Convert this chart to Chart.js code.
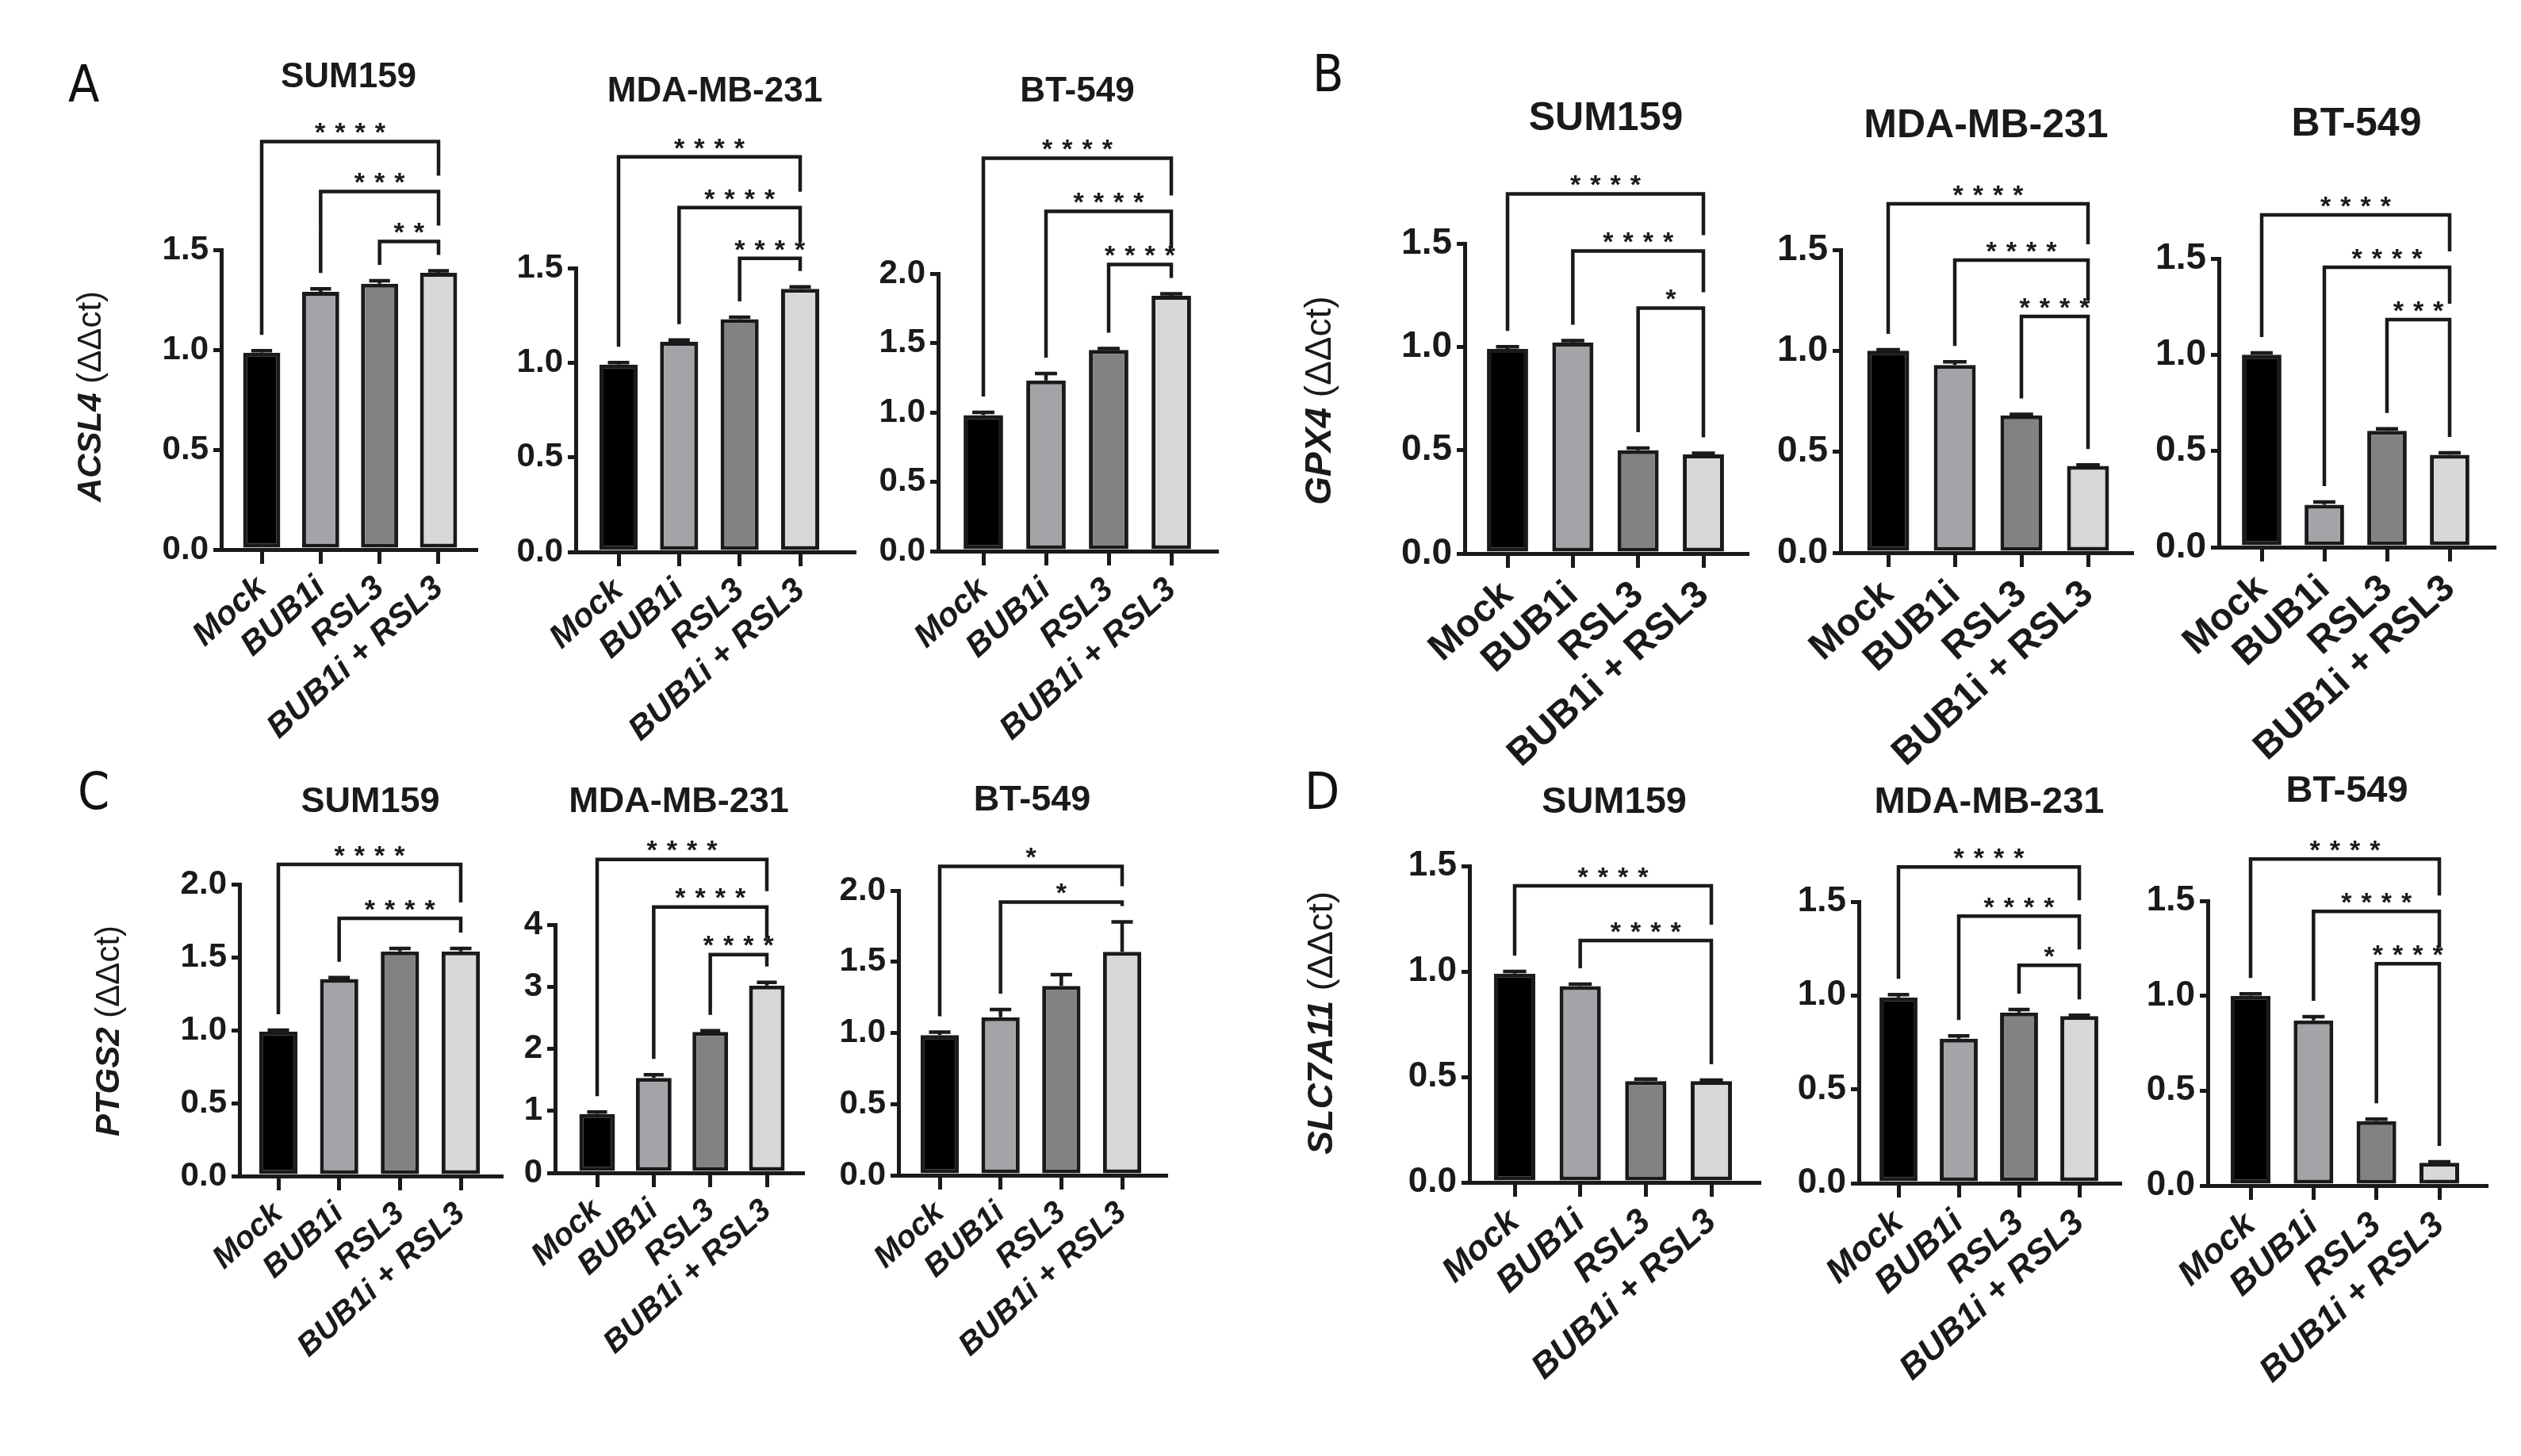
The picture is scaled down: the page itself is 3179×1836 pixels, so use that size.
<!DOCTYPE html>
<html lang="en">

<head>
    <meta charset="UTF-8">
    <title>Ferroptosis genes after BUB1i and RSL3</title>
    <script src="https://cdn.jsdelivr.net/npm/chart.js"></script>
    <style>
        body {
            margin: 0;
            background: #fff;
        }

        #figure {
            position: relative;
            width: 3179px;
            height: 1836px;
            overflow: hidden;
            background: #fff;
        }

        #figure canvas {
            position: absolute;
        }

        .panel-letter {
            position: absolute;
            font-family: "Liberation Sans Narrow", "DejaVu Sans Condensed", "Liberation Sans", sans-serif;
            font-size: 64px;
            line-height: 1;
            color: #111;
        }
    </style>
</head>

<body>
    <div id="figure">
        <div class="panel-letter" style="left:86px; top:74px">A</div>
        <div class="panel-letter" style="left:1655px; top:61px">B</div>
        <div class="panel-letter" style="left:98px; top:966px">C</div>
        <div class="panel-letter" style="left:1645px; top:966px">D</div>
    </div>
    <script>
        const groups = ['Mock', 'BUB1i', 'RSL3', 'BUB1i + RSL3'];
        const cellLines = ['SUM159', 'MDA-MB-231', 'BT-549'];
        const genes = ['ACSL4', 'GPX4', 'PTGS2', 'SLC7A11'];

        // mean ΔΔct, one row per cell line (SUM159, MDA-MB-231, BT-549)
        const acsl4Mean = [[0.985, 1.29, 1.33, 1.385], [0.99, 1.11, 1.23, 1.39], [0.98, 1.23, 1.45, 1.84]];
        const acsl4Sem = [[0.01, 0.015, 0.015, 0.01], [0.01, 0.01, 0.01, 0.01], [0.02, 0.05, 0.01, 0.015]];
        const gpx4Mean = [[0.99, 1.02, 0.50, 0.48], [1.0, 0.93, 0.68, 0.43], [1.0, 0.22, 0.605, 0.48]];
        const gpx4Sem = [[0.01, 0.01, 0.01, 0.005], [0.005, 0.015, 0.005, 0.005], [0.01, 0.015, 0.01, 0.01]];
        const ptgs2Mean = [[0.99, 1.35, 1.54, 1.54], [0.95, 1.53, 2.27, 3.02], [0.985, 1.11, 1.33, 1.57]];
        const ptgs2Sem = [[0.01, 0.01, 0.02, 0.02], [0.03, 0.05, 0.02, 0.05], [0.02, 0.055, 0.08, 0.21]];
        const slc7a11Mean = [[0.99, 0.93, 0.48, 0.48], [0.99, 0.77, 0.91, 0.89], [1.0, 0.87, 0.34, 0.12]];
        const slc7a11Sem = [[0.01, 0.01, 0.01, 0.005], [0.015, 0.015, 0.015, 0.005], [0.01, 0.02, 0.01, 0.005]];

        const yAxisMax = [[1.5, 1.5, 2.0], [1.5, 1.5, 1.5], [2.0, 4, 2.0], [1.5, 1.5, 1.5]];
        const yAxisStep = [[0.5, 0.5, 0.5], [0.5, 0.5, 0.5], [0.5, 1, 0.5], [0.5, 0.5, 0.5]];

        // comparisons against BUB1i + RSL3, outermost bracket first
        const comparisons = [[0, 3], [1, 3], [2, 3]];
        const acsl4Stars = [['****', '***', '**'], ['****', '****', '****'], ['****', '****', '****']];
        const gpx4Stars = [['****', '****', '*'], ['****', '****', '****'], ['****', '****', '***']];
        const ptgs2Stars = [['****', '****'], ['****', '****', '****'], ['*', '*']];
        const slc7a11Stars = [['****', '****'], ['****', '****', '*'], ['****', '****', '****']];

        const means = [acsl4Mean, gpx4Mean, ptgs2Mean, slc7a11Mean];
        const sems = [acsl4Sem, gpx4Sem, ptgs2Sem, slc7a11Sem];
        const starSets = [acsl4Stars, gpx4Stars, ptgs2Stars, slc7a11Stars];

        // page geometry of every small plot (px): y axis x, axis end, first/last bar centre,
        // pixel of top tick and of zero, title centre y, bracket gap and step
        const frames = [
            { axis: 279, end: 600, c0: 330, c3: 553, top: 315, zero: 693, titleY: 98, gap: 37, step: 63 },
            { axis: 726, end: 1077, c0: 780, c3: 1009, top: 338, zero: 696, titleY: 116, gap: 36, step: 64 },
            { axis: 1183, end: 1534, c0: 1240, c3: 1477, top: 345, zero: 695, titleY: 116, gap: 37, step: 67 },
            { axis: 1847, end: 2203, c0: 1901, c3: 2148, top: 307, zero: 698, titleY: 150, gap: 41, step: 72 },
            { axis: 2321, end: 2688, c0: 2381, c3: 2633, top: 315, zero: 697, titleY: 159, gap: 42, step: 71 },
            { axis: 2798, end: 3145, c0: 2852, c3: 3089, top: 326, zero: 690, titleY: 157, gap: 42, step: 66 },
            { axis: 302, end: 632, c0: 351, c3: 581, top: 1115, zero: 1483, titleY: 1012, gap: 38, step: 68 },
            { axis: 700, end: 1012, c0: 753, c3: 967, top: 1166, zero: 1479, titleY: 1012, gap: 35, step: 60 },
            { axis: 1133, end: 1470, c0: 1185, c3: 1415, top: 1123, zero: 1482, titleY: 1010, gap: 25, step: 45 },
            { axis: 1853, end: 2218, c0: 1910, c3: 2158, top: 1092, zero: 1491, titleY: 1012, gap: 39, step: 69 },
            { axis: 2344, end: 2673, c0: 2394, c3: 2622, top: 1137, zero: 1492, titleY: 1012, gap: 37, step: 62 },
            { axis: 2784, end: 3135, c0: 2838, c3: 3076, top: 1136, zero: 1495, titleY: 998, gap: 38, step: 66 }
        ];

        const panelText = [
            { title: 44, tick: 42, label: 42, italic: true, yTitle: 42, yTitleX: 115, yTitleY: 500 },
            { title: 50, tick: 46, label: 48, italic: false, yTitle: 46, yTitleX: 1665, yTitleY: 505 },
            { title: 45, tick: 42, label: 40, italic: true, yTitle: 42, yTitleX: 138, yTitleY: 1300 },
            { title: 47, tick: 44, label: 44, italic: true, yTitle: 45, yTitleX: 1668, yTitleY: 1290 }
        ];

        const barColors = ['#000000', '#a3a3a8', '#828282', '#d8d8d8'];
        const INK = '#1a1a1a';
        const FONT = '"Liberation Sans", Arial, sans-serif';
        const Y_W = 112, X_H = 320, PAD_R = 40, LEG_GAP = 20;
        const STAR_SIZE = 34, STAR_SPACING = 12;

        function sigPlugin(mean, sem, stars, f) {
            return {
                id: 'sigMarks',
                afterDatasetsDraw(chart) {
                    const ctx = chart.ctx;
                    const y = chart.scales.y;
                    const bars = chart.getDatasetMeta(0).data;
                    const tops = bars.map((b, i) => y.getPixelForValue(mean[i] + sem[i]));
                    ctx.save();
                    ctx.strokeStyle = INK;
                    ctx.fillStyle = INK;
                    ctx.lineWidth = 4.5;
                    ctx.lineJoin = 'miter';

                    // upper SEM error bars
                    bars.forEach((b, i) => {
                        const half = b.width * 0.28;
                        ctx.beginPath();
                        ctx.moveTo(b.x, b.y);
                        ctx.lineTo(b.x, tops[i]);
                        ctx.moveTo(b.x - half, tops[i]);
                        ctx.lineTo(b.x + half, tops[i]);
                        ctx.stroke();
                    });

                    // brackets from the innermost one up
                    const colTop = tops.slice();
                    const base = Math.min(...tops) - f.gap;
                    const n = stars.length;
                    ctx.font = `bold ${STAR_SIZE}px ${FONT}`;
                    ctx.textAlign = 'center';
                    ctx.textBaseline = 'alphabetic';
                    ctx.letterSpacing = STAR_SPACING + 'px';
                    for (let k = n - 1; k >= 0; k--) {
                        const [a, b] = comparisons[k];
                        const ly = base - (n - 1 - k) * f.step;
                        const xa = bars[a].x, xb = bars[b].x;
                        ctx.beginPath();
                        ctx.moveTo(xa, colTop[a] - LEG_GAP);
                        ctx.lineTo(xa, ly);
                        ctx.lineTo(xb, ly);
                        ctx.lineTo(xb, colTop[b] - LEG_GAP);
                        ctx.stroke();
                        for (let j = a; j <= b; j++) colTop[j] = Math.min(colTop[j], ly);
                        ctx.fillText(stars[k], (xa + xb) / 2 + STAR_SPACING / 2, ly - 20 + STAR_SIZE * 0.58);
                    }
                    ctx.restore();
                }
            };
        }

        function yTitlePlugin(gene, p, left, top) {
            return {
                id: 'geneTitle',
                afterDraw(chart) {
                    const ctx = chart.ctx;
                    const f1 = `italic bold ${p.yTitle}px ${FONT}`;
                    const f2 = `${p.yTitle}px ${FONT}`;
                    ctx.save();
                    ctx.translate(p.yTitleX - left, p.yTitleY - top);
                    ctx.rotate(-Math.PI / 2);
                    ctx.font = f1;
                    const w1 = ctx.measureText(gene + ' ').width;
                    ctx.font = f2;
                    const w2 = ctx.measureText('(ΔΔct)').width;
                    const x0 = -(w1 + w2) / 2;
                    ctx.fillStyle = INK;
                    ctx.textAlign = 'left';
                    ctx.textBaseline = 'middle';
                    ctx.font = f1;
                    ctx.fillText(gene + ' ', x0, 0);
                    ctx.font = f2;
                    ctx.fillText('(ΔΔct)', x0 + w1, 0);
                    ctx.restore();
                }
            };
        }

        const fig = document.getElementById('figure');

        genes.forEach((gene, g) => {
            const p = panelText[g];
            cellLines.forEach((cell, c) => {
                const f = frames[g * 3 + c];
                const s = (f.c3 - f.c0) / 3;
                const first = c === 0;
                const left = first ? p.yTitleX - 45 : f.axis - Y_W - 6;
                const top = Math.round(f.titleY - p.title * 0.6 - 10);
                const width = f.end + PAD_R - left;
                const height = f.zero + X_H - top;

                const canvas = document.createElement('canvas');
                canvas.width = width;
                canvas.height = height;
                canvas.style.left = left + 'px';
                canvas.style.top = top + 'px';
                canvas.style.width = width + 'px';
                canvas.style.height = height + 'px';
                fig.appendChild(canvas);

                const titleTop = f.titleY - top - p.title * 0.6;
                const titleBottom = (f.top - top) - p.title * 1.2 - titleTop;
                const step = yAxisStep[g][c];

                const plugins = [sigPlugin(means[g][c], sems[g][c], starSets[g][c], f)];
                if (first) plugins.push(yTitlePlugin(gene, p, left, top));

                new Chart(canvas, {
                    type: 'bar',
                    data: {
                        datasets: [{
                            label: gene + ' ' + cell,
                            data: means[g][c].map((v, i) => ({ x: i, y: v })),
                            backgroundColor: barColors,
                            borderColor: INK,
                            borderWidth: 5,
                            borderSkipped: false,
                            barPercentage: 0.63,
                            categoryPercentage: 1
                        }]
                    },
                    options: {
                        responsive: false,
                        animation: false,
                        devicePixelRatio: 1,
                        layout: {
                            padding: { left: f.axis - Y_W - left, right: PAD_R, top: 0, bottom: 0 }
                        },
                        plugins: {
                            legend: { display: false },
                            tooltip: { enabled: false },
                            title: {
                                display: true,
                                text: cell,
                                fullSize: false,
                                color: INK,
                                font: { family: FONT, size: p.title, weight: 'bold' },
                                padding: { top: titleTop, bottom: titleBottom }
                            }
                        },
                        scales: {
                            x: {
                                type: 'linear',
                                offset: false,
                                min: -(f.c0 - f.axis) / s,
                                max: 3 + (f.end - f.c3) / s,
                                afterBuildTicks: ax => { ax.ticks = groups.map((_, i) => ({ value: i })); },
                                afterFit: ax => { ax.height = X_H; },
                                ticks: {
                                    autoSkip: false,
                                    minRotation: 42,
                                    maxRotation: 42,
                                    padding: 6,
                                    color: INK,
                                    font: { family: FONT, size: p.label, weight: 'bold', style: p.italic ? 'italic' : 'normal' },
                                    callback: v => groups[v]
                                },
                                grid: { drawOnChartArea: false, offset: false, tickLength: 18, lineWidth: 5, color: INK },
                                border: { color: INK, width: 5 }
                            },
                            y: {
                                min: 0,
                                max: yAxisMax[g][c],
                                afterFit: ax => { ax.width = Y_W; },
                                ticks: {
                                    stepSize: step,
                                    padding: 6,
                                    color: INK,
                                    font: { family: FONT, size: p.tick, weight: 'bold' },
                                    callback: v => v.toFixed(step < 1 ? 1 : 0)
                                },
                                grid: { drawOnChartArea: false, tickLength: 10, lineWidth: 5, color: INK },
                                border: { color: INK, width: 5 }
                            }
                        }
                    },
                    plugins: plugins
                });
            });
        });
    </script>
</body>

</html>
